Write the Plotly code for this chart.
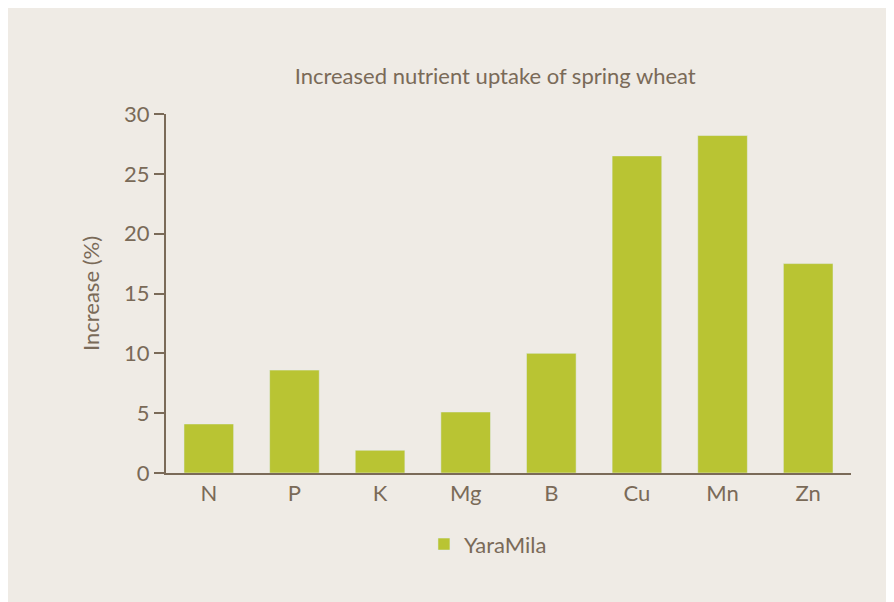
import plotly.graph_objects as go

nutrients = ["N", "P", "K", "Mg", "B", "Cu", "Mn", "Zn"]
increase = [4.1, 8.6, 1.9, 5.1, 10.0, 26.5, 28.2, 17.5]

BG = "#EFEBE5"
BAR = "#B9C433"
TXT = "#7A6A58"

fig = go.Figure()
fig.add_trace(go.Bar(x=nutrients, y=increase, name="YaraMila", marker=dict(color=BAR)))

fig.update_layout(
	width=894, height=602,
	paper_bgcolor=BG, plot_bgcolor=BG,
	font=dict(family="Lato, Open Sans, sans-serif", color=TXT, size=22),
	title=dict(text="Increased nutrient uptake of spring wheat", x=0.545, xanchor="center",
			   y=0.887, yanchor="middle", font=dict(size=22, color=TXT)),
	margin=dict(l=158, r=51, t=106, b=137),
	bargap=0.42,
	showlegend=True,
	legend=dict(orientation="h", x=0.47, xanchor="center", y=-0.14, yanchor="top",
				font=dict(size=22, color=TXT), bgcolor="rgba(0,0,0,0)"),
)
fig.update_yaxes(range=[0, 30], dtick=5, showgrid=False, zeroline=False,
				 showline=True, linecolor=TXT, linewidth=2,
				 ticks="outside", ticklen=10, tickcolor=TXT, tickwidth=2,
				 title=dict(text="Increase (%)", font=dict(size=22, color=TXT), standoff=18))
fig.update_xaxes(showgrid=False, showline=True, linecolor=TXT, linewidth=2,
				 ticks="", tickfont=dict(size=22, color=TXT))

fig.write_html("out.html")
